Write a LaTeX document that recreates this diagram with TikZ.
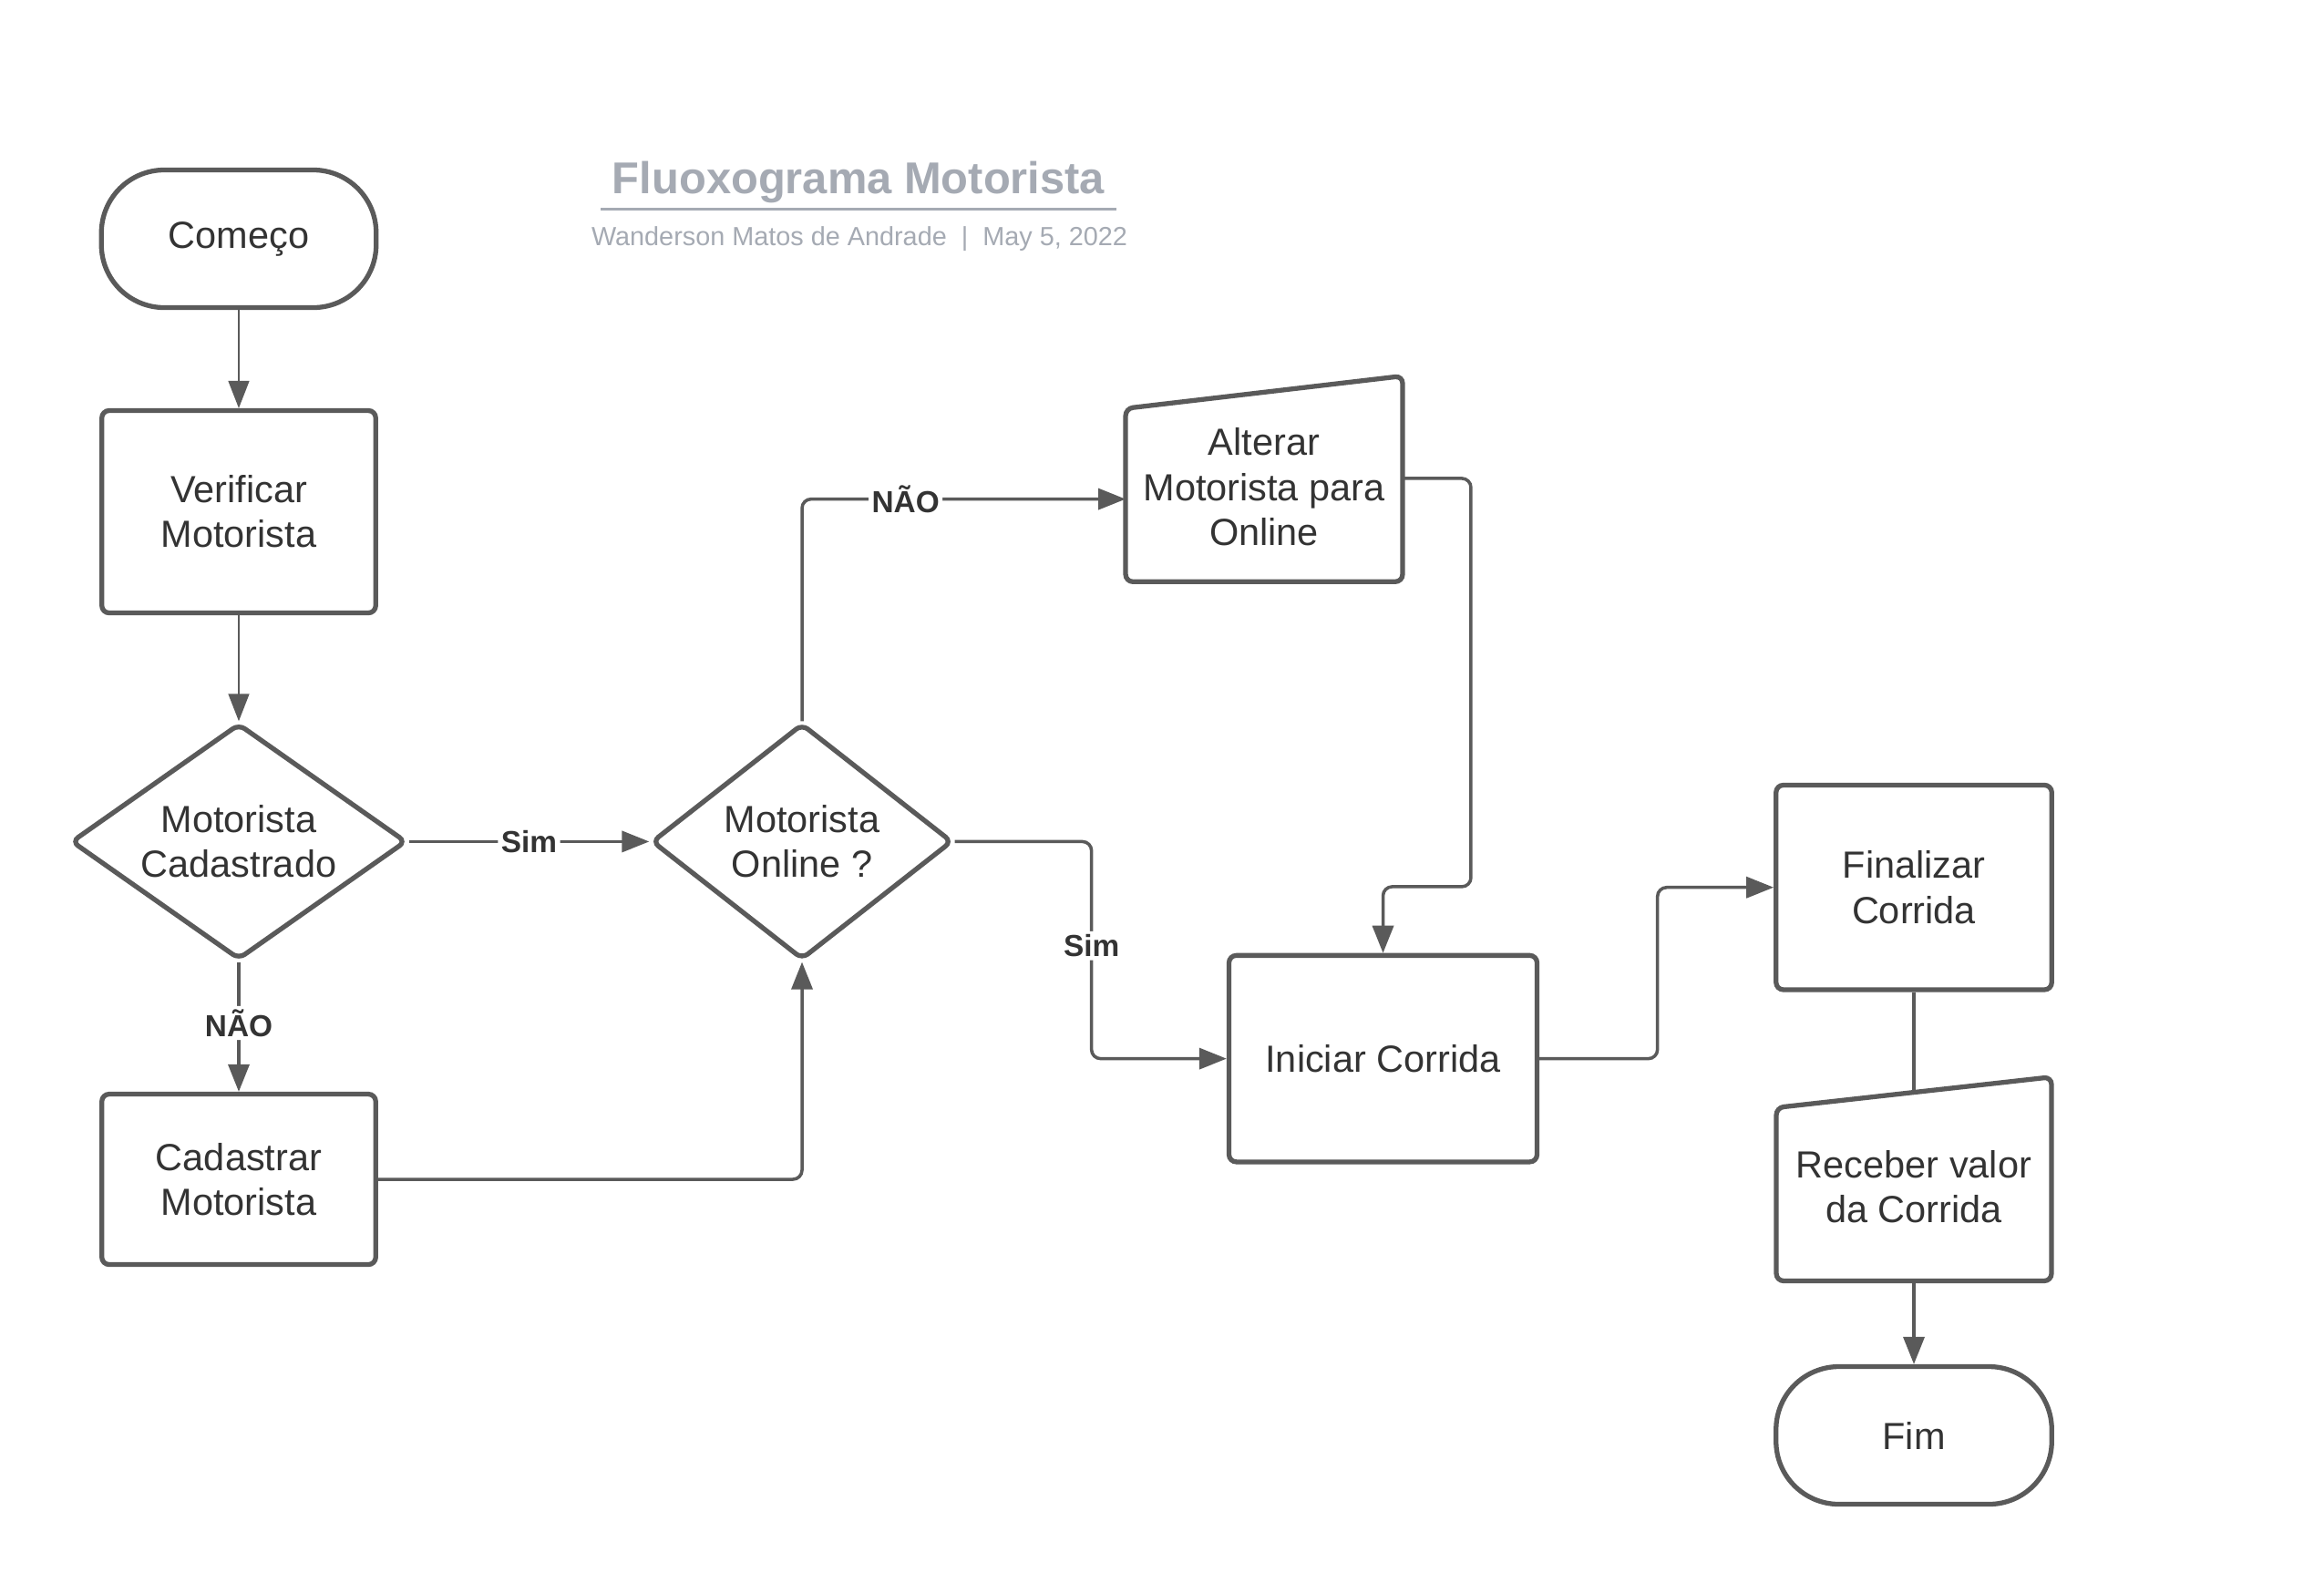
\documentclass[tikz,border=0pt]{standalone}
\usepackage{fontspec}
\setmainfont{Liberation Sans}
\usetikzlibrary{shapes.geometric, arrows.meta, calc}
\definecolor{linegray}{HTML}{5A5A5A}
\definecolor{textgray}{HTML}{333333}
\definecolor{titlegray}{HTML}{A5AAB3}

\begin{document}
\begin{tikzpicture}[
    main/.style = {draw=linegray, line width=1.5pt, rounded corners=0.08cm, align=center, text=textgray, font=\fontsize{11.8}{14}\selectfont, inner sep=0pt},
    box/.style = {main, rectangle, minimum width=3.005cm, minimum height=2.22cm},
    term/.style = {main, rectangle, rounded corners=0.69cm, minimum width=3.015cm, minimum height=1.51cm},
    choice/.style = {main, diamond, aspect=1.4, minimum height=2.59cm},
    manual/.style = {align=center, text=textgray, font=\fontsize{11.8}{14}\selectfont, inner sep=0pt},
    outline/.style = {draw=linegray, line width=1.5pt, rounded corners=0.08cm},
    flow/.style = {draw=linegray, line width=1pt, rounded corners=0.1cm, -{Triangle[length=0.3cm, width=0.23cm]}},
    thin/.style = {flow, line width=0.45pt},
    tag/.style = {fill=white, text=textgray, font=\bfseries\fontsize{9.5}{11}\selectfont, inner sep=1pt}
]
    \useasboundingbox (0,0) rectangle (25.5,-17.25);
    \fill[white] (0,0) rectangle (25.5,-17.25);

    % title
    \node[anchor=base, inner sep=0pt, text=titlegray, font=\bfseries\fontsize{13.9}{16}\selectfont] at (9.42,-2.12) (Titulo) {Fluoxograma Motorista};
    \draw[titlegray, line width=0.6pt] ($(Titulo.base west)+(-0.12,-0.175)$) -- ($(Titulo.base east)+(0.12,-0.175)$);
    \node[anchor=base, inner sep=0pt, text=titlegray, font=\fontsize{8.2}{10}\selectfont] at (9.43,-2.69) (Autor) {Wanderson Matos de Andrade~~|~~May 5, 2022};

    % left column
    \node[term] at (2.62,-2.62) (Comeco) {Começo};
    \node[box] at (2.62,-5.615) (Verificar) {Verificar\\Motorista};
    \node[choice, minimum width=3.68cm] at (2.62,-9.234) (Cadastrado) {Motorista\\Cadastrado};
    \node[box, minimum height=1.87cm] at (2.62,-12.94) (Cadastrar) {Cadastrar\\Motorista};

    % middle
    \node[choice, minimum width=3.30cm] at (8.80,-9.234) (Online) {Motorista\\Online ?};
    \node[manual, minimum width=3.025cm, minimum height=2.065cm] at (13.87,-5.343) (Alterar) {Alterar\\Motorista para\\Online};
    \draw[outline] (Alterar.south) -- (Alterar.south west) -- ([yshift=-0.178cm]Alterar.north west) -- ([yshift=0.178cm]Alterar.north east) -- (Alterar.south east) -- cycle;
    \node[box, minimum width=3.38cm, minimum height=2.265cm] at (15.175,-11.616) (Iniciar) {Iniciar Corrida};

    % right column
    \node[box, minimum width=3.025cm, minimum height=2.245cm] at (21.00,-9.737) (Finalizar) {Finalizar\\Corrida};
    \node[manual, minimum width=3.005cm, minimum height=2.055cm] at (21.00,-13.02) (Receber) {Receber valor\\da Corrida};
    \draw[outline] (Receber.south) -- (Receber.south west) -- ([yshift=-0.168cm]Receber.north west) -- ([yshift=0.168cm]Receber.north east) -- (Receber.south east) -- cycle;
    \node[term, minimum width=3.025cm] at (21.00,-15.75) (Fim) {Fim};

    \draw[thin] (Comeco) -- (Verificar);
    \draw[thin] (Verificar) -- (Cadastrado);
    \draw[flow] (Cadastrado.east) -- node[tag] {Sim} (Online.west);
    \draw[flow] (Cadastrado.south) -- node[tag, pos=0.47] {NÃO} (Cadastrar.north);
    \draw[flow] (Cadastrar.east) -| (Online.south);
    \draw[flow] (Online.north) |- node[tag, pos=0.66] {NÃO} ([yshift=-0.133cm]Alterar.west);
    \draw[flow] ([yshift=0.094cm]Alterar.east) -- ++(0.75,0) -- ++(0,-4.48) -| (Iniciar.north);
    \draw[flow] (Online.east) -- ++(1.50,0) |- node[tag, pos=0.24] {Sim} (Iniciar.west);
    \draw[flow] (Iniciar.east) -- ++(1.295,0) |- (Finalizar.west);
    \draw[draw=linegray, line width=1pt] (Finalizar.south) -- (Receber.north);
    \draw[flow] (Receber.south) -- (Fim.north);
\end{tikzpicture}
\end{document}
